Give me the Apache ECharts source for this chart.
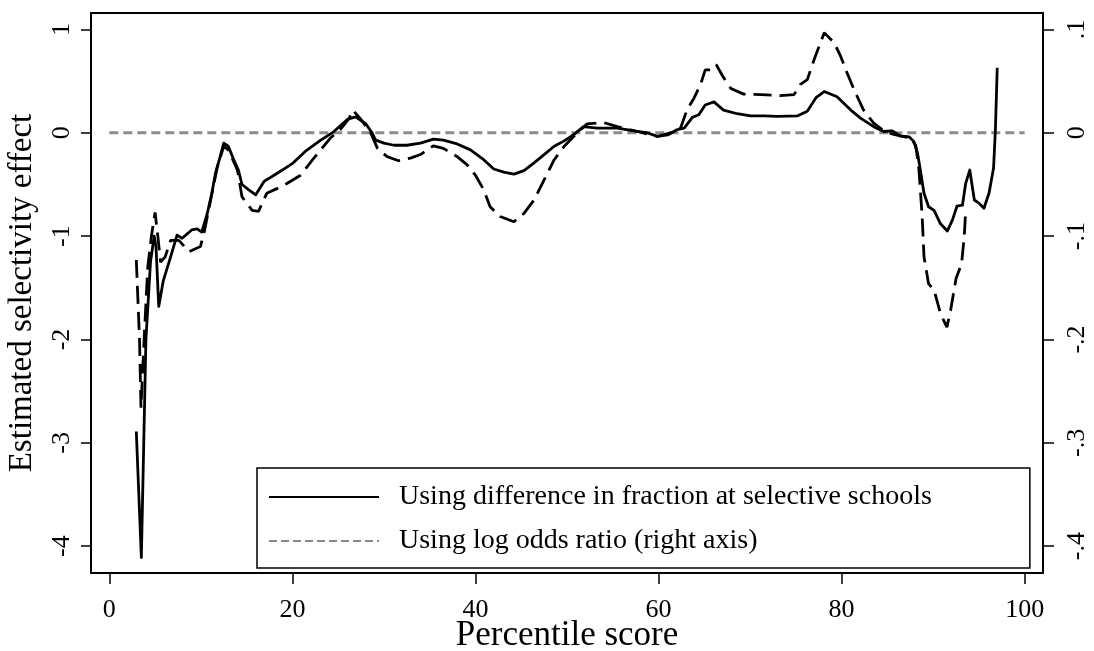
<!DOCTYPE html>
<html>
<head>
<meta charset="utf-8">
<script src="https://cdn.jsdelivr.net/npm/echarts@6.0.0/dist/echarts.min.js"></script>
<style>
  html, body { margin: 0; padding: 0; background: #fff; }
  #chart { width: 1094px; height: 651px; }
</style>
</head>
<body>
<div id="chart"></div>
<script>
// Selectivity effect by percentile score: difference in fraction (left axis)
const fracPct = [2.95,3.5,4.0,4.5,4.9,5.1,5.4,5.9,6.7,7.4,7.95,9.0,9.6,10.1,10.7,11.2,11.6,12.05,12.5,13.0,13.6,14.1,14.5,15.2,16.0,16.9,18.0,18.9,20.1,21.4,23.1,24.5,26.0,26.9,28.0,28.7,29.1,30.0,31.1,32.5,34.0,35.4,36.5,38.0,39.45,40.9,42.0,43.1,44.2,45.3,46.4,47.5,48.6,49.65,50.7,51.8,53.3,55.5,57.3,58.8,59.9,61.0,62.0,62.8,63.7,64.4,65.1,66.05,67.1,68.6,70.05,71.5,73.0,75.2,76.25,77.2,78.1,79.5,81.0,82.1,83.5,84.6,85.5,86.4,87.4,87.9,88.3,88.6,89.0,89.5,90.1,90.8,91.55,92.1,92.6,93.2,93.55,94.0,94.5,95.0,95.55,96.1,96.6,96.8,97.0];
const fracEffect = [-2.89,-4.11,-2.0,-1.25,-1.0,-1.1,-1.68,-1.43,-1.2,-0.99,-1.02,-0.94,-0.93,-0.96,-0.78,-0.585,-0.39,-0.25,-0.10,-0.13,-0.26,-0.36,-0.5,-0.55,-0.6,-0.47,-0.41,-0.36,-0.29,-0.18,-0.07,0.01,0.13,0.155,0.09,0.0,-0.07,-0.1,-0.12,-0.12,-0.1,-0.06,-0.07,-0.107,-0.165,-0.26,-0.35,-0.38,-0.40,-0.366,-0.29,-0.21,-0.13,-0.08,-0.02,0.06,0.045,0.045,0.02,0.0,-0.035,-0.02,0.03,0.045,0.15,0.175,0.27,0.30,0.22,0.185,0.165,0.165,0.16,0.165,0.21,0.34,0.40,0.35,0.22,0.14,0.06,0.013,0.02,-0.03,-0.04,-0.085,-0.2,-0.36,-0.585,-0.715,-0.75,-0.88,-0.95,-0.845,-0.71,-0.70,-0.49,-0.36,-0.65,-0.68,-0.73,-0.585,-0.34,0.03,0.63];

// Log odds ratio (right axis)
const oddsPct = [2.95,3.3,3.46,3.8,4.2,4.6,5.0,5.3,5.6,6.1,6.7,7.6,8.7,9.95,10.3,11.0,11.8,12.5,13.0,14.0,14.5,15.6,16.3,17.2,18.3,19.4,20.9,22.3,24.15,25.2,26.2,26.6,27.4,28.5,29.3,30.35,31.6,32.9,34.0,35.4,36.5,38.0,39.1,40.0,40.9,41.6,42.7,44.2,45.3,46.4,47.5,48.6,49.7,51.1,52.2,54.0,55.5,57.7,59.9,61.3,62.4,63.1,63.9,64.6,65.1,65.7,66.3,67.0,67.9,69.3,71.2,73.3,74.8,75.5,76.25,77.0,78.1,79.2,79.9,80.6,81.35,82.4,83.5,84.6,85.5,86.4,87.5,88.1,88.45,88.8,89.0,89.5,90.1,90.8,91.5,91.9,92.5,93.1,93.4,93.55];
const oddsEffect = [-0.123,-0.2,-0.266,-0.2,-0.13,-0.1,-0.077,-0.1,-0.125,-0.12,-0.104,-0.104,-0.115,-0.11,-0.099,-0.068,-0.033,-0.013,-0.0165,-0.036,-0.062,-0.075,-0.076,-0.0585,-0.054,-0.049,-0.041,-0.025,-0.005,0.003,0.014,0.022,0.014,0.001,-0.015,-0.023,-0.027,-0.0245,-0.021,-0.0126,-0.015,-0.023,-0.031,-0.041,-0.055,-0.0715,-0.081,-0.086,-0.078,-0.065,-0.0456,-0.026,-0.013,0.0,0.0087,0.010,0.006,0.0013,-0.0035,0.0,0.0045,0.022,0.034,0.047,0.061,0.061,0.066,0.055,0.043,0.0375,0.037,0.036,0.037,0.047,0.0515,0.071,0.097,0.087,0.074,0.058,0.042,0.022,0.0094,0.002,-0.001,-0.003,-0.005,-0.012,-0.036,-0.081,-0.12,-0.146,-0.152,-0.175,-0.188,-0.172,-0.141,-0.127,-0.1,-0.076];

// Reference line at zero, spanning the score range
const zeroPct = [0, 100];
const zeroVal = [0, 0];

// Tick labels
const xTicks = [0, 20, 40, 60, 80, 100];
const leftTicks = [-4, -3, -2, -1, 0, 1];
const rightTicks = [-0.4, -0.3, -0.2, -0.1, 0, 0.1];

const seriesNames = ['Using difference in fraction at selective schools', 'Using log odds ratio (right axis)'];

const pairs = (xs, ys) => xs.map((x, i) => [x, ys[i]]);
const FONT = '"Liberation Serif", "DejaVu Serif", serif';

const chart = echarts.init(document.getElementById('chart'), null, { renderer: 'canvas' });

const stataDecimal = v => {
  if (Math.abs(v) < 1e-9) return '0';
  return String(Math.round(v * 10) / 10).replace('0.', '.');
};

chart.setOption({
  animation: false,
  backgroundColor: '#fff',
  textStyle: { fontFamily: FONT, color: '#000' },
  grid: {
    left: 91, right: 51, top: 13, bottom: 78,
    outerBoundsMode: 'none', containLabel: false,
    show: true, borderColor: '#000', borderWidth: 2, backgroundColor: '#fff'
  },
  legend: {
    left: 257, top: 468,
    orient: 'vertical',
    data: [
      { name: seriesNames[0] },
      { name: seriesNames[1], lineStyle: { color: '#888888', type: [8, 4], width: 2 } }
    ],
    itemWidth: 110, itemHeight: 20, itemGap: 14,
    itemStyle: { opacity: 0, borderWidth: 0 },
    padding: [14, 98, 12, 11],
    borderColor: '#000', borderWidth: 1.5,
    backgroundColor: '#fff',
    selectedMode: false,
    textStyle: { fontFamily: FONT, fontSize: 28, color: '#000', lineHeight: 30, padding: [0, 0, 0, 15] }
  },
  xAxis: {
    type: 'value', min: -2, max: 102,
    name: 'Percentile score', nameLocation: 'middle', nameGap: 45, nameMoveOverlap: false,
    nameTextStyle: { fontFamily: FONT, fontSize: 35, color: '#000' },
    axisLine: { show: true, onZero: false, lineStyle: { color: '#000', width: 2 } },
    axisTick: { show: true, inside: false, length: 11, customValues: xTicks, lineStyle: { color: '#000', width: 1.5 } },
    axisLabel: { customValues: xTicks, fontFamily: FONT, fontSize: 26, color: '#000', margin: 24 },
    splitLine: { show: false }
  },
  yAxis: [
    {
      type: 'value', position: 'left', min: -4.26, max: 1.16,
      name: 'Estimated selectivity effect', nameLocation: 'middle', nameGap: 52, nameRotate: 90, nameMoveOverlap: false,
      nameTextStyle: { fontFamily: FONT, fontSize: 33, color: '#000' },
      axisLine: { show: true, onZero: false, lineStyle: { color: '#000', width: 2 } },
      axisTick: { show: true, length: 10, customValues: leftTicks, lineStyle: { color: '#000', width: 1.5 } },
      axisLabel: { customValues: leftTicks, rotate: 90, fontFamily: FONT, fontSize: 26, color: '#000', margin: 16 },
      splitLine: { show: false }
    },
    {
      type: 'value', position: 'right', min: -0.426, max: 0.116,
      axisLine: { show: true, onZero: false, lineStyle: { color: '#000', width: 2 } },
      axisTick: { show: true, length: 11, customValues: rightTicks, lineStyle: { color: '#000', width: 1.5 } },
      axisLabel: { customValues: rightTicks, rotate: 90, fontFamily: FONT, fontSize: 26, color: '#000', margin: 21, formatter: stataDecimal },
      splitLine: { show: false }
    }
  ],
  series: [
    {
      name: 'zero', type: 'line', yAxisIndex: 0,
      data: pairs(zeroPct, zeroVal),
      symbol: 'none', silent: true,
      lineStyle: { color: '#8c8c8c', width: 3, type: [9, 5] }
    },
    {
      name: seriesNames[0], type: 'line', yAxisIndex: 0,
      data: pairs(fracPct, fracEffect),
      symbol: 'none', silent: true,
      color: '#000',
      lineStyle: { color: '#000', width: 2.8, join: 'round' }
    },
    {
      name: seriesNames[1], type: 'line', yAxisIndex: 1,
      data: pairs(oddsPct, oddsEffect),
      symbol: 'none', silent: true,
      color: '#000',
      lineStyle: { color: '#000', width: 2.8, type: [18, 8] }
    }
  ]
});
</script>
</body>
</html>
